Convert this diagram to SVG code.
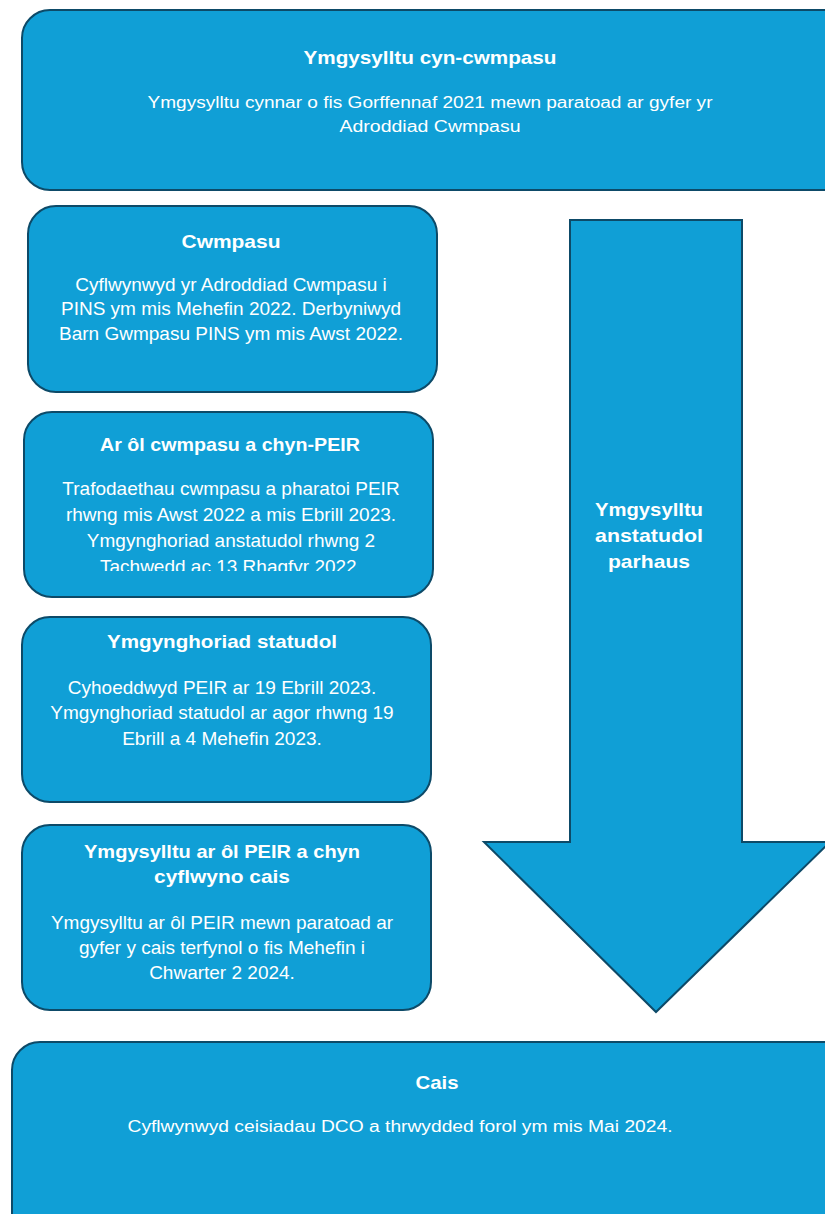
<svg xmlns="http://www.w3.org/2000/svg" width="825" height="1214" viewBox="0 0 825 1214">
<style>
.box{fill:#109fd6;stroke:#0d4a68;stroke-width:2}
.t{font-family:"Liberation Sans",Arial,sans-serif;fill:#ffffff;text-anchor:middle}
.h{font-weight:bold;font-size:19px}
.b{font-size:19px}
.n{font-size:16px}
</style>
<defs>
<clipPath id="clip3"><rect x="0" y="400" width="460" height="171"/></clipPath>
</defs>
<rect width="825" height="1214" fill="#ffffff"/>
<g id="connectors">
<g id="arrow">
<path class="box" d="M570,220 L742,220 L742,842 L830,842 L656,1012 L484,842 L570,842 Z"/>
<text class="t h" x="649" y="516" textLength="108" lengthAdjust="spacingAndGlyphs">Ymgysylltu</text>
<text class="t h" x="649" y="542" textLength="108" lengthAdjust="spacingAndGlyphs">anstatudol</text>
<text class="t h" x="649" y="568" textLength="82" lengthAdjust="spacingAndGlyphs">parhaus</text>
</g>
</g>
<g id="node-pre-scoping">
<rect class="box" x="22" y="10" width="830" height="180" rx="28"/>
<text class="t h" x="430" y="64" textLength="253" lengthAdjust="spacingAndGlyphs">Ymgysylltu cyn-cwmpasu</text>
<text class="t n" x="430" y="108" textLength="565" lengthAdjust="spacingAndGlyphs">Ymgysylltu cynnar o fis Gorffennaf 2021 mewn paratoad ar gyfer yr</text>
<text class="t n" x="430" y="132" textLength="181" lengthAdjust="spacingAndGlyphs">Adroddiad Cwmpasu</text>
</g>
<g id="node-scoping">
<rect class="box" x="28" y="206" width="409" height="186" rx="28"/>
<text class="t h" x="231" y="248" textLength="99" lengthAdjust="spacingAndGlyphs">Cwmpasu</text>
<text class="t b" x="231" y="291">Cyflwynwyd yr Adroddiad Cwmpasu i</text>
<text class="t b" x="231" y="315">PINS ym mis Mehefin 2022. Derbyniwyd</text>
<text class="t b" x="231" y="340">Barn Gwmpasu PINS ym mis Awst 2022.</text>
</g>
<g id="node-post-scoping">
<rect class="box" x="24" y="412" width="409" height="185" rx="28"/>
<text class="t h" x="230" y="451" textLength="260" lengthAdjust="spacingAndGlyphs">Ar ôl cwmpasu a chyn-PEIR</text>
<text class="t b" x="231" y="495">Trafodaethau cwmpasu a pharatoi PEIR</text>
<text class="t b" x="231" y="521">rhwng mis Awst 2022 a mis Ebrill 2023.</text>
<text class="t b" x="231" y="547">Ymgynghoriad anstatudol rhwng 2</text>
<text class="t b" x="231" y="573" clip-path="url(#clip3)">Tachwedd ac 13 Rhagfyr 2022.</text>
</g>
<g id="node-statutory">
<rect class="box" x="22" y="617" width="409" height="185" rx="28"/>
<text class="t h" x="222" y="648" textLength="230" lengthAdjust="spacingAndGlyphs">Ymgynghoriad statudol</text>
<text class="t b" x="222" y="694">Cyhoeddwyd PEIR ar 19 Ebrill 2023.</text>
<text class="t b" x="222" y="719">Ymgynghoriad statudol ar agor rhwng 19</text>
<text class="t b" x="222" y="745">Ebrill a 4 Mehefin 2023.</text>
</g>
<g id="node-post-peir">
<rect class="box" x="22" y="825" width="409" height="185" rx="28"/>
<text class="t h" x="222" y="858" textLength="276" lengthAdjust="spacingAndGlyphs">Ymgysylltu ar ôl PEIR a chyn</text>
<text class="t h" x="222" y="883" textLength="136" lengthAdjust="spacingAndGlyphs">cyflwyno cais</text>
<text class="t b" x="222" y="929">Ymgysylltu ar ôl PEIR mewn paratoad ar</text>
<text class="t b" x="222" y="954">gyfer y cais terfynol o fis Mehefin i</text>
<text class="t b" x="222" y="979">Chwarter 2 2024.</text>
</g>
<g id="node-application">
<rect class="box" x="12" y="1042" width="840" height="200" rx="28"/>
<text class="t h" x="437" y="1089" textLength="43" lengthAdjust="spacingAndGlyphs">Cais</text>
<text class="t n" x="400" y="1132" textLength="545" lengthAdjust="spacingAndGlyphs">Cyflwynwyd ceisiadau DCO a thrwydded forol ym mis Mai 2024.</text>
</g>
</svg>
